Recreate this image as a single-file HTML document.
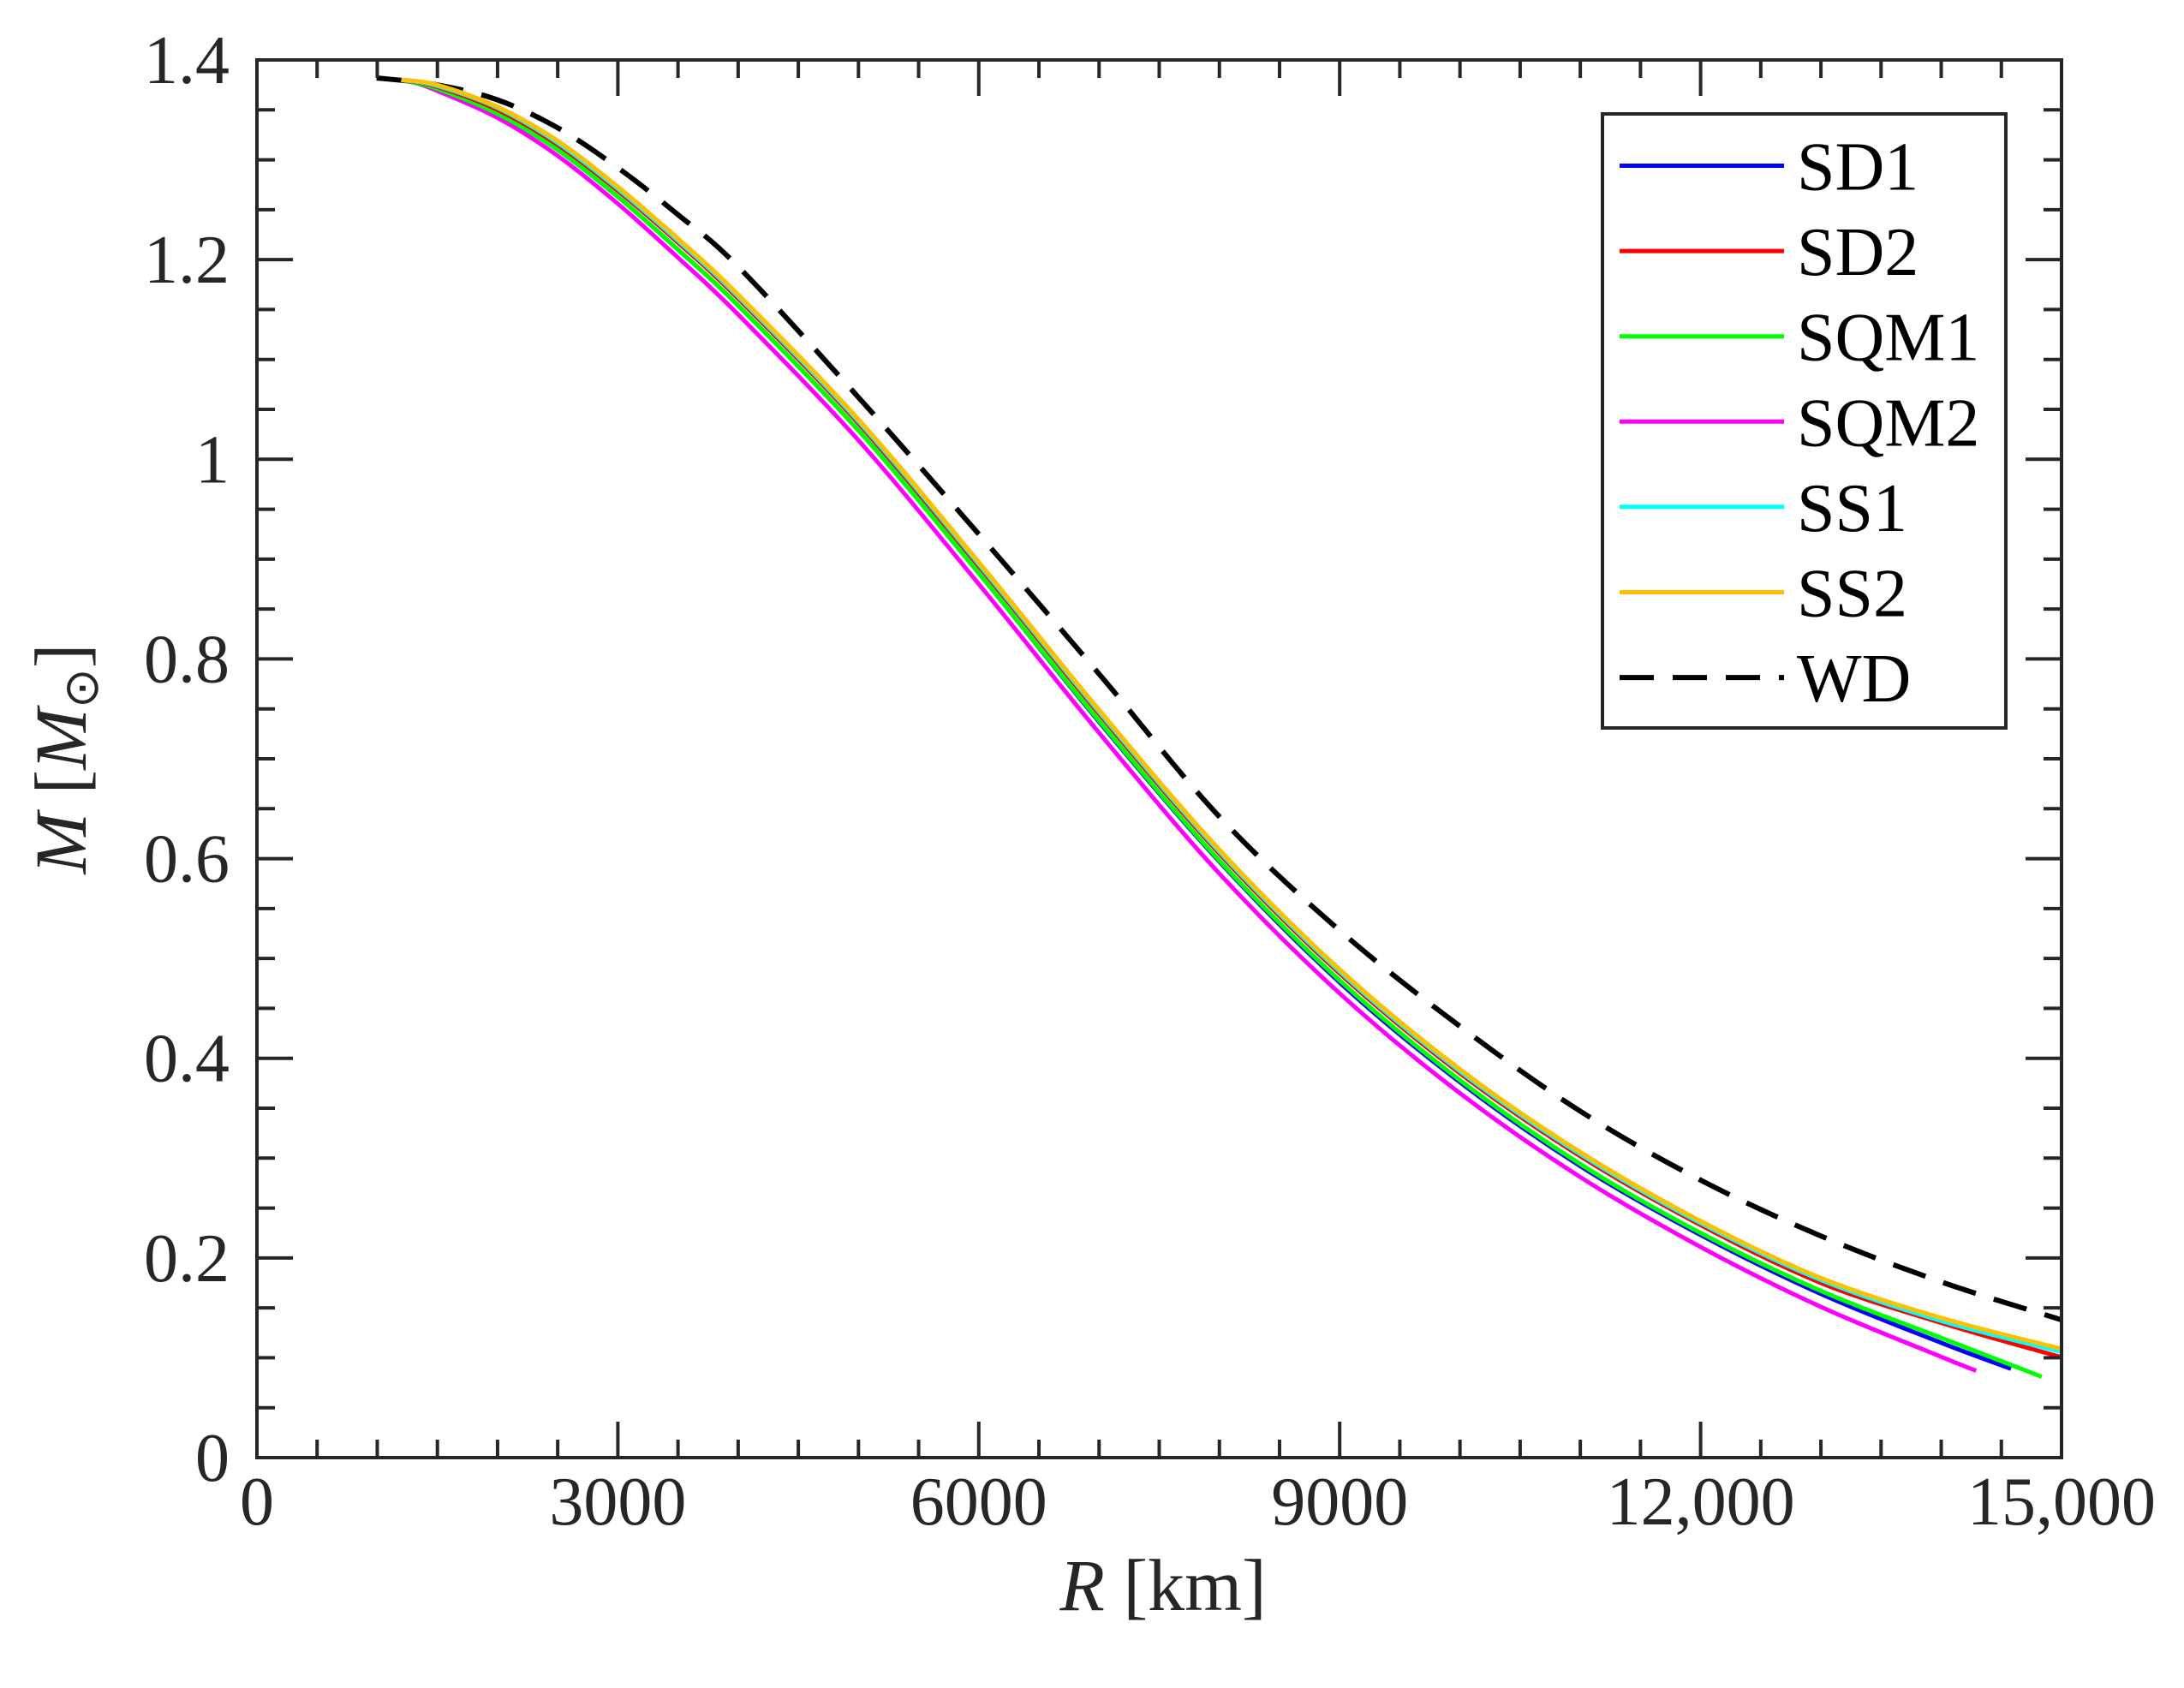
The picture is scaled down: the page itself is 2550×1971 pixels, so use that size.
<!DOCTYPE html>
<html><head><meta charset="utf-8"><style>
html,body{margin:0;padding:0;background:#fff;}
svg{display:block;font-family:"Liberation Serif",serif;}
</style></head><body>
<svg id="chart" width="2550" height="1971" viewBox="0 0 2550 1971" xmlns="http://www.w3.org/2000/svg">
<rect x="0" y="0" width="2550" height="1971" fill="#fff"/>
<g id="axes"></g>
<g id="series"></g>
<g id="frame"></g>
<g id="legend"></g>
</svg>
<script>
const xTicks=[0,3000,6000,9000,12000,15000];
const xTickLabels=["0","3000","6000","9000","12,000","15,000"];
const yTicks=[0,0.2,0.4,0.6,0.8,1,1.2,1.4];
const yTickLabels=["0","0.2","0.4","0.6","0.8","1","1.2","1.4"];
const seriesNames=["SD1","SD2","SQM1","SQM2","SS1","SS2","WD"];
const seriesColors=["#0000ff","#ff0000","#00ff00","#ff00ff","#00ffff","#ffc000","#000000"];
const radiusGrid=[1500,2000,2500,3000,3500,4000,5000,6000,7000,8000,9000,10000,11000,12000,13000,14000];
const mSD2=[1.373,1.350,1.315,1.269,1.217,1.161,1.036,0.893,0.745,0.605,0.485,0.385,0.302,0.233,0.175,0.135];
const mSS2=[1.375,1.353,1.319,1.273,1.221,1.165,1.040,0.897,0.749,0.609,0.489,0.389,0.306,0.237,0.180,0.140];
const mSS1=[1.374,1.352,1.317,1.271,1.219,1.163,1.038,0.895,0.747,0.607,0.487,0.387,0.304,0.235,0.178,0.137];
const mSD1=[1.371,1.346,1.310,1.263,1.210,1.154,1.029,0.886,0.737,0.597,0.476,0.376,0.292,0.223,0.164,0.115];
const mSQM1=[1.371,1.346,1.310,1.263,1.210,1.154,1.029,0.886,0.738,0.598,0.478,0.378,0.294,0.225,0.167,0.120];
const mSQM2=[1.369,1.342,1.304,1.256,1.202,1.145,1.019,0.875,0.726,0.585,0.465,0.365,0.281,0.211,0.151,0.101];
const mWD=[1.375,1.360,1.332,1.292,1.245,1.193,1.062,0.925,0.785,0.642,0.528,0.432,0.347,0.278,0.222,0.176];
const startR=[1200,1200,1200,1250,1200,1200,995];
const startM=[1.38,1.38,1.38,1.38,1.38,1.38,1.382];
const endR=[14580,15000,14835,14290,15000,15000,15000];
const endM=[0.089,0.1005,0.081,0.087,0.106,0.109,0.138];
const allM=[mSD1,mSD2,mSQM1,mSQM2,mSS1,mSS2,mWD];

const L=300,R=2407,T=70,B=1702;
const xs=v=>L+(v/15000)*(R-L);
const ys=v=>B-(v/1.4)*(B-T);
const NS="http://www.w3.org/2000/svg";
function mk(tag,attrs,parent){const e=document.createElementNS(NS,tag);for(const k in attrs)e.setAttribute(k,attrs[k]);parent.appendChild(e);return e;}
const axes=document.getElementById('axes'),frame=document.getElementById('frame'),ser=document.getElementById('series'),leg=document.getElementById('legend');

for(let i=0;i<=30;i++){const x=xs(i*500);const len=(i%6===0)?42:21;
 let t=mk('line',{x1:x,y1:B,x2:x,y2:B-len,stroke:'#262626','stroke-width':4},frame);
 
 t=mk('line',{x1:x,y1:T,x2:x,y2:T+len,stroke:'#262626','stroke-width':4},frame);
 }
for(let i=0;i<=28;i++){const y=ys(i*0.05);const len=(i%4===0)?42:21;
 let t=mk('line',{x1:L,y1:y,x2:L+len,y2:y,stroke:'#262626','stroke-width':4},frame);
 
 t=mk('line',{x1:R,y1:y,x2:R-len,y2:y,stroke:'#262626','stroke-width':4},frame);
 }
const box=mk('rect',{x:L,y:T,width:R-L,height:B-T,fill:'none',stroke:'#262626','stroke-width':4},frame);

xTicks.forEach((v,i)=>{const t=mk('text',{x:xs(v),y:1780,'text-anchor':'middle','font-size':80,fill:'#262626'},axes);t.textContent=xTickLabels[i];
 });
yTicks.forEach((v,i)=>{const t=mk('text',{x:268,y:ys(v)+27,'text-anchor':'end','font-size':80,fill:'#262626'},axes);t.textContent=yTickLabels[i];
 });
let xl=mk('text',{x:1358,y:1880,'text-anchor':'middle','font-size':86,fill:'#262626'},axes);
xl.innerHTML='<tspan font-style="italic">R</tspan> [km]';

let yl=mk('text',{x:0,y:0,'text-anchor':'middle','font-size':86,fill:'#262626',transform:'translate(100,886) rotate(-90)'},axes);
yl.innerHTML='<tspan font-style="italic">M</tspan> [<tspan font-style="italic">M</tspan><tspan font-size="56" dy="14">⊙</tspan><tspan dy="-14">]</tspan>';


function pathFrom(pts){let d='M'+pts[0][0]+','+pts[0][1];
 for(let i=0;i<pts.length-1;i++){const p0=pts[Math.max(0,i-1)],p1=pts[i],p2=pts[i+1],p3=pts[Math.min(pts.length-1,i+2)];
  const c1=[p1[0]+(p2[0]-p0[0])/6,p1[1]+(p2[1]-p0[1])/6],c2=[p2[0]-(p3[0]-p1[0])/6,p2[1]-(p3[1]-p1[1])/6];
  d+=' C'+c1[0]+','+c1[1]+' '+c2[0]+','+c2[1]+' '+p2[0]+','+p2[1];}
 return d;}
const order=[6,3,0,2,1,4,5];
order.forEach(k=>{
 const pts=[[xs(startR[k]),ys(startM[k])]];
 radiusGrid.forEach((r,i)=>{if(r<endR[k]&&r>startR[k])pts.push([xs(r),ys(allM[k][i])]);});
 pts.push([xs(endR[k]),ys(endM[k])]);
 const attrs={d:pathFrom(pts),fill:'none',stroke:seriesColors[k],'stroke-width':5,'stroke-linejoin':'round'};
 if(k===6){attrs['stroke-dasharray']='40 22';attrs['stroke-width']=6;}
 const p=mk('path',attrs,ser);
 
 });

const lb=mk('rect',{x:1871,y:133,width:471,height:717,fill:'#fff',stroke:'#262626','stroke-width':4},leg);

seriesNames.forEach((n,i)=>{const y=193.5+i*99.6;
 const a={x1:1891,y1:y,x2:2083,y2:y,stroke:seriesColors[i],'stroke-width':5};
 if(i===6){a['stroke-dasharray']='40 22';a['stroke-width']=6;}
 const ln=mk('line',a,leg);
 
 const t=mk('text',{x:2098,y:y+28,'font-size':80,fill:'#000'},leg);t.textContent=n;
 });
</script>
</body></html>
